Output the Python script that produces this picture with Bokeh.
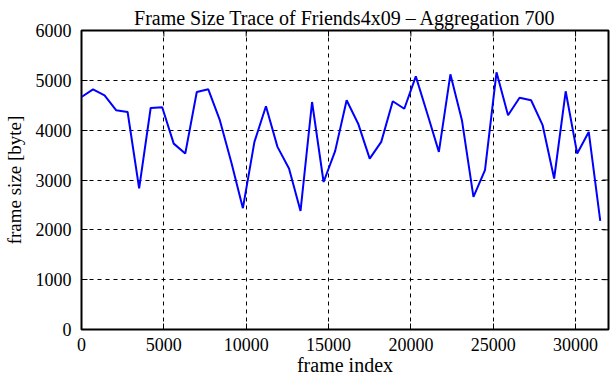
import math
from bokeh.plotting import figure
from bokeh.models import Range1d, FixedTicker
from bokeh.embed import file_html
from bokeh.resources import INLINE

# Data
step = 700
frame_size = [4665, 4820, 4700, 4400, 4365, 2830, 4445, 4460, 3730, 3530,
              4765, 4820, 4200, 3350, 2435, 3765, 4480, 3665, 3230, 2380,
              4565, 2960, 3580, 4600, 4130, 3430, 3765, 4580, 4430, 5080,
              4330, 3565, 5120, 4200, 2660, 3200, 5160, 4300, 4650, 4600,
              4100, 3030, 4780, 3530, 3965, 2180]
frame_index = [i * step for i in range(len(frame_size))]
x_ticks = [0, 5000, 10000, 15000, 20000, 25000, 30000]
y_ticks = [0, 1000, 2000, 3000, 4000, 5000, 6000]
x_max = 32000
y_max = 6000

FONT = "Liberation Serif"

p = figure(width=611, height=380, output_backend="svg", toolbar_location=None,
           x_range=Range1d(0, x_max), y_range=Range1d(0, y_max),
           min_border_left=81, min_border_right=3, min_border_top=30, min_border_bottom=51)
p.title.text = "Frame Size Trace of Friends4x09 \u2013 Aggregation 700"
p.title.align = "center"
p.title.text_font = FONT
p.title.text_font_size = "20px"
p.title.text_font_style = "normal"
p.title.text_color = "black"
p.title.offset = 0
p.title.standoff = 3

p.line(frame_index, frame_size, line_color="#0000ff", line_width=2)

# mirrored ticks on the right and top edges
p.ray(x=[x_max] * len(y_ticks), y=y_ticks, length=6, length_units="screen",
      angle=math.pi, line_color="black", line_width=1)
p.ray(x=x_ticks, y=[y_max] * len(x_ticks), length=6, length_units="screen",
      angle=-math.pi / 2, line_color="black", line_width=1)

p.outline_line_color = "black"
p.outline_line_width = 2
p.outline_line_alpha = 1

for ax in (p.xaxis[0], p.yaxis[0]):
    ax.axis_line_color = None
    ax.major_tick_in = 6
    ax.major_tick_out = 0
    ax.minor_tick_line_color = None
    ax.major_tick_line_color = "black"
    ax.major_tick_line_width = 1
    ax.major_label_text_font = FONT
    ax.major_label_text_font_size = "18px"
    ax.major_label_text_color = "black"
    ax.axis_label_text_font = FONT
    ax.axis_label_text_font_style = "normal"
    ax.axis_label_text_color = "black"

p.xaxis[0].ticker = FixedTicker(ticks=x_ticks)
p.yaxis[0].ticker = FixedTicker(ticks=y_ticks)
p.xaxis[0].axis_label = "frame index"
p.yaxis[0].axis_label = "frame size [byte]"
p.xaxis[0].axis_label_text_font_size = "20px"
p.yaxis[0].axis_label_text_font_size = "19px"
p.xaxis[0].major_label_standoff = 8
p.yaxis[0].major_label_standoff = 10
p.xaxis[0].axis_label_standoff = 0
p.yaxis[0].axis_label_standoff = 8

p.xgrid.ticker = FixedTicker(ticks=x_ticks)
p.ygrid.ticker = FixedTicker(ticks=y_ticks)
p.grid.grid_line_color = "black"
p.grid.grid_line_dash = "4 4"
p.grid.grid_line_width = 1
p.grid.grid_line_alpha = 1

open("out.html", "w").write(file_html(p, INLINE))
